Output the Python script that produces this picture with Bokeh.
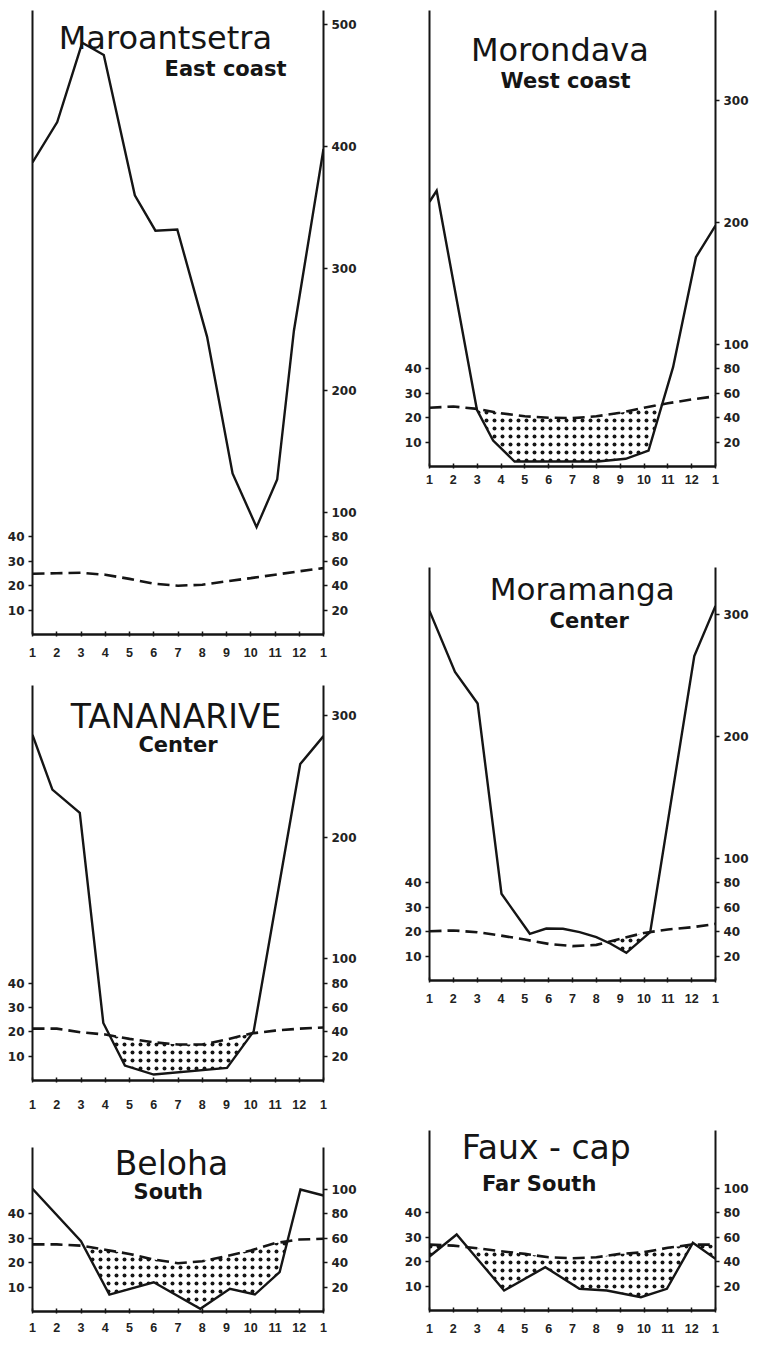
import numpy as np
from bokeh.plotting import figure
from bokeh.models import Range1d, LinearAxis, FixedTicker, Label
from bokeh.layouts import row, column
from bokeh.embed import file_html
from bokeh.resources import INLINE

# ---------------- data ----------------
MONTH_TICKS = [1, 2, 3, 4, 5, 6, 7, 8, 9, 10, 11, 12, 13]
MONTH_LABELS = ["1", "2", "3", "4", "5", "6", "7", "8", "9", "10", "11", "12", "1"]
TEMP_TICKS = [10, 20, 30, 40]
TEMP_MONTHS = [1, 2, 3, 4, 5, 6, 7, 8, 9, 10, 11, 12, 13]

# Maroantsetra - East coast
maro_p_month = [1.0, 2.02, 3.05, 3.94, 5.22, 6.07, 6.97, 8.2, 9.25, 10.24, 11.09, 11.78, 13.0]
maro_p_mm = [387, 420, 485, 475, 360, 331, 332, 244, 132, 88, 127, 249, 398]
maro_t_c = [24.9, 25.1, 25.3, 24.5, 22.8, 20.8, 20.0, 20.4, 21.8, 23.1, 24.5, 25.9, 27.2]
maro_rain_ticks = [20, 40, 60, 80, 100, 200, 300, 400, 500]

# Morondava - West coast
moro_p_month = [1.0, 1.3, 2.99, 3.67, 4.57, 8.06, 9.23, 10.19, 11.22, 12.18, 13.0]
moro_p_mm = [217, 226, 46.5, 21.3, 4.1, 4.1, 6.3, 13.1, 81.4, 171.6, 197.5]
moro_t_c = [24.1, 24.6, 23.6, 21.8, 20.6, 20.0, 19.8, 20.6, 22.0, 24.1, 25.9, 27.5, 28.8]
moro_rain_ticks = [20, 40, 60, 80, 100, 200, 300]

# Tananarive - Center
tana_p_month = [1.0, 1.82, 2.95, 3.92, 4.81, 6.0, 9.02, 10.12, 12.04, 13.0]
tana_p_mm = [284, 239, 220, 47.3, 12.3, 4.9, 10.4, 40.4, 260, 283]
tana_t_c = [21.3, 21.3, 19.8, 18.9, 17.1, 15.7, 14.8, 14.8, 16.8, 19.3, 20.5, 21.3, 21.8]
tana_rain_ticks = [20, 40, 60, 80, 100, 200, 300]

# Moramanga - Center
mora_p_month = [1.0, 2.07, 3.02, 4.02, 5.21, 5.9, 6.6, 7.3, 8.0, 8.6, 9.26, 10.26, 12.11, 13.0]
mora_p_mm = [303, 253, 227, 71.1, 38.3, 42.6, 42.4, 39.6, 35.5, 30.1, 22.7, 39.6, 266, 307]
mora_t_c = [20.2, 20.5, 19.8, 18.4, 16.8, 15.0, 14.1, 14.6, 17.1, 19.5, 20.9, 21.8, 23.2]
mora_rain_ticks = [20, 40, 60, 80, 100, 200, 300]

# Beloha - South
belo_p_month = [1.0, 3.0, 4.17, 6.0, 7.92, 9.14, 10.17, 11.19, 12.05, 13.0]
belo_p_mm = [100.6, 57.6, 13.9, 24.0, 2.2, 18.6, 13.9, 32.2, 100, 95.1]
belo_t_c = [27.5, 27.5, 27.0, 25.3, 23.6, 21.3, 19.8, 20.6, 22.7, 25.0, 28.0, 29.5, 29.8]
belo_rain_ticks = [20, 40, 60, 80, 100]

# Faux-cap - Far South
faux_p_month = [1.0, 2.14, 4.13, 5.86, 7.29, 8.44, 9.87, 10.96, 12.05, 13.0]
faux_p_mm = [44.3, 62.3, 16.4, 35.5, 17.8, 16.4, 10.9, 17.8, 55.5, 42.4]
faux_t_c = [27.0, 26.6, 25.5, 24.3, 23.2, 21.8, 21.4, 21.8, 23.2, 23.9, 25.7, 27.0, 27.0]
faux_rain_ticks = [20, 40, 60, 80, 100]

# ---------------- style / layout ----------------
PX_PER_MM = 1.22
INK = "#151515"
NAME_FONT = "DejaVu Sans"
REGION_FONT = "DejaVu Sans"
TICK_FONT = "DejaVu Sans"
XTICK_FONT = "Liberation Sans"


def make_panel(station, region, p_month, p_mm, t_c, rain_ticks,
               width, height, bl, br, bt, bb,
               name_x, name_y, name_size, region_x, region_y, x_standoff):
    frame_h = height - bt - bb
    ymax = frame_h / PX_PER_MM
    p = figure(width=width, height=height, x_range=Range1d(1, 13),
               y_range=Range1d(0, ymax), y_axis_location="right",
               output_backend="svg", toolbar_location=None, title=None,
               min_border_left=bl, min_border_right=br,
               min_border_top=bt, min_border_bottom=bb)
    p.outline_line_color = None
    p.grid.visible = False
    p.background_fill_color = "white"
    p.border_fill_color = "white"

    # temperature axis on the left (1 degree C = 2 mm)
    p.extra_y_ranges = {"temp": Range1d(0, ymax / 2.0)}
    tax = LinearAxis(y_range_name="temp", ticker=FixedTicker(ticks=TEMP_TICKS))
    p.add_layout(tax, "left")

    rax = p.right[0]
    rax.ticker = FixedTicker(ticks=rain_ticks)

    for ax in (tax, rax):
        ax.axis_line_width = 2
        ax.axis_line_color = INK
        ax.major_tick_in = 0
        ax.major_tick_out = 4
        ax.major_tick_line_width = 1.5
        ax.major_tick_line_color = INK
        ax.minor_tick_line_color = None
        ax.major_label_text_font = TICK_FONT
        ax.major_label_text_font_style = "bold"
        ax.major_label_text_font_size = "12px"
        ax.major_label_text_color = "#222222"
        ax.major_label_standoff = 4

    xax = p.xaxis[0]
    xax.ticker = FixedTicker(ticks=MONTH_TICKS)
    xax.major_label_overrides = {t: lab for t, lab in zip(MONTH_TICKS, MONTH_LABELS)}
    xax.axis_line_width = 2.5
    xax.axis_line_color = INK
    xax.major_tick_in = 3
    xax.major_tick_out = 2
    xax.major_tick_line_width = 1.5
    xax.major_tick_line_color = INK
    xax.minor_tick_line_color = None
    xax.major_label_text_font = XTICK_FONT
    xax.major_label_text_font_style = "bold"
    xax.major_label_text_font_size = "12.5px"
    xax.major_label_text_color = "#222222"
    xax.major_label_standoff = x_standoff

    # dry period: rain below twice the temperature (stippled)
    grid = np.linspace(1, 13, 1441)
    pg = np.interp(grid, p_month, p_mm)
    tg = 2.0 * np.interp(grid, TEMP_MONTHS, t_c)
    p.varea(x=grid, y1=np.minimum(pg, tg), y2=tg, fill_color=None,
            hatch_pattern="dot", hatch_color=INK, hatch_scale=8, hatch_weight=1.2)

    p.line(TEMP_MONTHS, t_c, y_range_name="temp", line_color=INK,
           line_width=2.6, line_dash="12 6")
    p.line(p_month, p_mm, line_color=INK, line_width=2.4, line_join="miter")

    p.add_layout(Label(x=name_x, y=name_y, y_units="screen", text=station,
                       text_align="center", text_baseline="alphabetic",
                       text_font=NAME_FONT, text_font_size=name_size,
                       text_color=INK))
    p.add_layout(Label(x=region_x, y=region_y, y_units="screen", text=region,
                       text_align="center", text_baseline="alphabetic",
                       text_font=REGION_FONT, text_font_style="bold",
                       text_font_size="21px", text_color=INK))
    return p


# the page itself has no margin, so the first column / row carry an 8 px offset
LW, LBL, LBR = 370, 32, 47
RW, RBL, RBR = 381, 59, 30

pA = make_panel("Maroantsetra", "East coast", maro_p_month, maro_p_mm, maro_t_c, maro_rain_ticks,
                LW, 664, LBL, LBR, 10, 30, 6.48, 597, "32px", 8.96, 566, 11)
pC = make_panel("TANANARIVE", "Center", tana_p_month, tana_p_mm, tana_t_c, tana_rain_ticks,
                LW, 447, LBL, LBR, 21, 30, 6.92, 364, "33px", 7.0, 336, 17)
pE = make_panel("Beloha", "South", belo_p_month, belo_p_mm, belo_t_c, belo_rain_ticks,
                LW, 230, LBL, LBR, 36, 30, 6.73, 148, "33px", 6.6, 120, 9)

pB = make_panel("Morondava", "West coast", moro_p_month, moro_p_mm, moro_t_c, moro_rain_ticks,
                RW, 496, RBL, RBR, 10, 30, 6.47, 417, "32px", 6.71, 386, 6)
pD = make_panel("Moramanga", "Center", mora_p_month, mora_p_mm, mora_t_c, mora_rain_ticks,
                RW, 514, RBL, RBR, 71, 30, 7.41, 392, "31px", 7.7, 360, 11)
pF = make_panel("Faux - cap", "Far South", faux_p_month, faux_p_mm, faux_t_c, faux_rain_ticks,
                RW, 331, RBL, RBR, 120, 31, 5.9, 163, "33px", 5.6, 127, 11)

layout = row(column(pA, pC, pE), column(pB, pD, pF))

with open("out.html", "w") as f:
    f.write(file_html(layout, INLINE))
